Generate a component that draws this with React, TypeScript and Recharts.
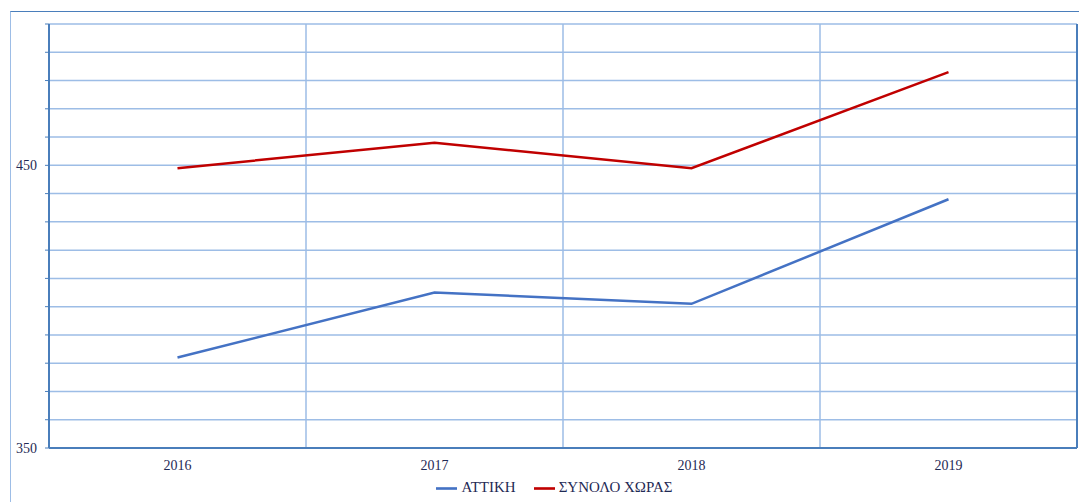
import { LineChart, Line, XAxis, YAxis, CartesianGrid, Legend } from "recharts";

// values
const years = ["2016", "2017", "2018", "2019"];
const attiki = [382, 405, 401, 438];
const synolo = [449, 458, 449, 483];
const yTicks = [350, 360, 370, 380, 390, 400, 410, 420, 430, 440, 450, 460, 470, 480, 490, 500];
const yLabels = [350, 450];

const COLORS = {
  attiki: "#4472c4",
  synolo: "#c00000",
  grid: "#9dbde6",
  axis: "#4a7ebb",
  text: "#1f2a55",
};

const FONT = "Liberation Serif";

const chartData = years.map((year, i) => ({
  year,
  attiki: attiki[i],
  synolo: synolo[i],
}));

export default function App() {
  return (
    <div
      style={{
        position: "absolute",
        left: 0,
        top: 0,
        width: 1079,
        height: 502,
        background: "#fff",
        overflow: "hidden",
        fontFamily: FONT,
      }}
    >
      {/* outer chart frame */}
      <div
        style={{
          position: "absolute",
          left: 10,
          top: 11,
          width: 1100,
          height: 520,
          borderTop: `1.5px solid ${COLORS.axis}`,
          borderLeft: `1.5px solid ${COLORS.grid}`,
        }}
      />
      <LineChart
        width={1079}
        height={502}
        data={chartData}
        margin={{ top: 24, right: 0, left: 0, bottom: 4 }}
        style={{ position: "absolute", left: 0, top: 0 }}
      >
        <CartesianGrid
          stroke={COLORS.grid}
          strokeWidth={1.5}
          horizontalValues={yTicks}
          verticalCoordinatesGenerator={({ offset }: any) =>
            [1, 2, 3].map((i) => offset.left + (offset.width * i) / years.length)
          }
        />
        <XAxis
          dataKey="year"
          scale="band"
          height={30}
          tick={{ fontSize: 14, fill: COLORS.text, fontFamily: FONT }}
          tickLine={false}
          axisLine={{ stroke: COLORS.axis, strokeWidth: 2 }}
          tickMargin={6}
        />
        <XAxis
          xAxisId="top"
          orientation="top"
          dataKey="year"
          height={0}
          tick={false}
          tickLine={false}
          axisLine={{ stroke: COLORS.axis, strokeWidth: 2 }}
        />
        <YAxis
          width={49}
          domain={[350, 500]}
          ticks={yTicks}
          interval={0}
          tickFormatter={(v: number) => (yLabels.includes(v) ? String(v) : "")}
          tick={{ fontSize: 14, fill: COLORS.text, fontFamily: FONT }}
          tickLine={{ stroke: COLORS.axis }}
          tickSize={4}
          tickMargin={8}
          axisLine={{ stroke: COLORS.axis, strokeWidth: 2 }}
        />
        <YAxis
          yAxisId="right"
          orientation="right"
          width={2}
          domain={[350, 500]}
          tick={false}
          tickLine={false}
          axisLine={{ stroke: COLORS.axis, strokeWidth: 2 }}
        />
        <Line
          type="linear"
          dataKey="attiki"
          name="ΑΤΤΙΚΗ"
          stroke={COLORS.attiki}
          strokeWidth={2.5}
          dot={false}
          isAnimationActive={false}
        />
        <Line
          type="linear"
          dataKey="synolo"
          name="ΣΥΝΟΛΟ ΧΩΡΑΣ"
          stroke={COLORS.synolo}
          strokeWidth={2.5}
          dot={false}
          isAnimationActive={false}
        />
        <Legend
          verticalAlign="bottom"
          height={20}
          iconType="plainline"
          iconSize={21}
          formatter={(value: string) => (
            <span style={{ color: COLORS.text, fontSize: 15, fontFamily: FONT, marginRight: 8 }}>{value}</span>
          )}
          wrapperStyle={{ lineHeight: "16px", fontFamily: FONT, paddingLeft: 24 }}
        />
      </LineChart>
    </div>
  );
}
